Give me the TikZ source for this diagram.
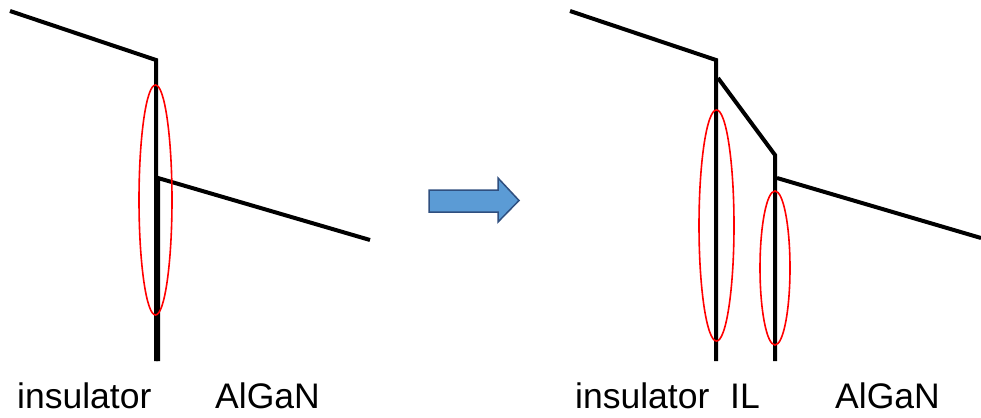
\documentclass[tikz,border=0pt]{standalone}
\usepackage{fontspec}
\setmainfont{Liberation Sans}
\usetikzlibrary{shapes.arrows}
\definecolor{arrowfill}{HTML}{5B9BD5}
\definecolor{arrowdraw}{HTML}{2F4F7F}
\begin{document}
\begin{tikzpicture}[x=1pt,y=-1pt,
  band/.style={line width=4pt,black},
  oval/.style={draw=red,line width=1.6pt},
  lbl/.style={anchor=base west,inner sep=0pt,font=\fontsize{35.5}{40}\selectfont}]
\useasboundingbox (0,0) rectangle (981,417);
% left panel
\coordinate (a1) at (10,11);
\coordinate (a2) at (156,60);
\coordinate (a3) at (156,361);
\coordinate (b1) at (158,178);
\coordinate (b2) at (158,361);
\coordinate (b3) at (370,240);
\draw[band] (a1) -- (a2) -- (a3);
\draw[band] (b2) -- (b1) -- (b3);
\draw[oval] (155.5,200) ellipse [x radius=16.5, y radius=115];
\node[lbl] (ins1) at (17,408) {insulator};
\node[lbl] (alg1) at (215,408) {AlGaN};
% arrow
\draw[arrowdraw,fill=arrowfill,line width=1.5pt,line join=miter]
  (429,190) -- (498,190) -- (498,178) -- (519,200.5) -- (498,222) -- (498,212) -- (429,212) -- cycle;
% right panel
\coordinate (c1) at (570,11);
\coordinate (c2) at (716,60);
\coordinate (c3) at (716,361);
\coordinate (d1) at (718,78);
\coordinate (d2) at (775,155);
\coordinate (d3) at (775,361);
\coordinate (e1) at (777,178);
\coordinate (e2) at (981,238);
\draw[band] (c1) -- (c2) -- (c3);
\draw[band] (d1) -- (d2) -- (d3);
\draw[band] (e1) -- (e2);
\draw[oval] (716.5,225.5) ellipse [x radius=17.5, y radius=115.5];
\draw[oval] (775,268) ellipse [x radius=15, y radius=77];
\node[lbl] (ins2) at (575,408) {insulator};
\node[lbl] (il) at (730,408) {IL};
\node[lbl] (alg2) at (835,408) {AlGaN};
\end{tikzpicture}
\end{document}
